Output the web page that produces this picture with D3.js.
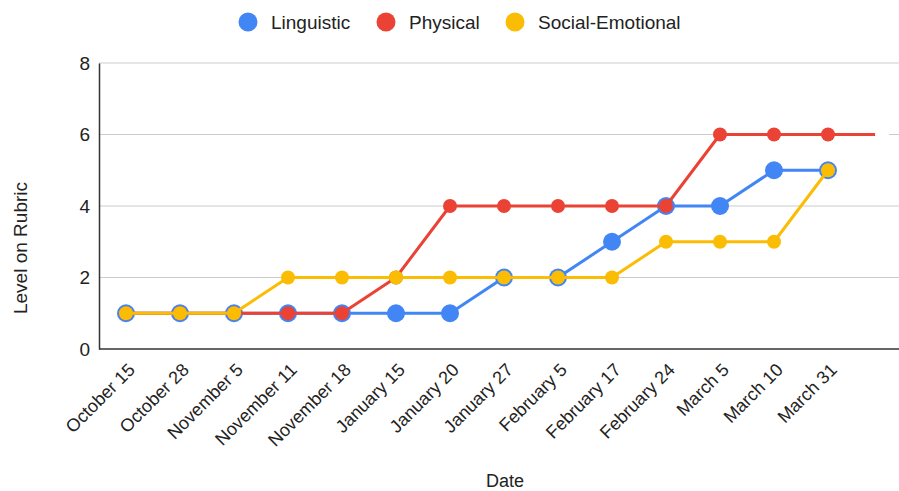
<!DOCTYPE html>
<html>
<head>
<meta charset="utf-8">
<script src="https://cdn.jsdelivr.net/npm/d3@7"></script>
<style>
  html, body { margin: 0; padding: 0; background: #fff; }
  svg { display: block; font-family: "Liberation Sans", Arial, Helvetica, sans-serif; }
</style>
</head>
<body>
<svg id="chart" width="899" height="491"></svg>
<script>
// Observation dates (the last slot is an unlabelled trailing date)
const dates = ["October 15", "October 28", "November 5", "November 11", "November 18",
  "January 15", "January 20", "January 27", "February 5", "February 17",
  "February 24", "March 5", "March 10", "March 31", ""];

// Rubric levels per domain
const linguistic = [1, 1, 1, 1, 1, 1, 1, 2, 2, 3, 4, 4, 5, 5, null];
const physical = [1, 1, 1, 1, 1, 2, 4, 4, 4, 4, 4, 6, 6, 6, 6];
const socialEmotional = [1, 1, 1, 2, 2, 2, 2, 2, 2, 2, 3, 3, 3, 5, null];

const yTicks = [0, 2, 4, 6, 8];

const seriesNames = ["Linguistic", "Physical", "Social-Emotional"];
const seriesValues = [linguistic, physical, socialEmotional];
const seriesColors = ["#4285F4", "#EA4335", "#FBBC04"];
const seriesRadius = [9, 7, 7];

const svg = d3.select("#chart");
const margin = { left: 99, top: 63, bottom: 349 };
const plotRight = 909;

const x = d3.scaleBand().domain(dates.map((d, i) => i)).range([margin.left, plotRight]);
const cx = i => x(i) + x.bandwidth() / 2;
const y = d3.scaleLinear().domain([0, 8]).range([margin.bottom, margin.top]);

// Horizontal gridlines
svg.append("g")
  .selectAll("line")
  .data(yTicks.filter(t => t > 0))
  .join("line")
  .attr("x1", margin.left).attr("x2", plotRight)
  .attr("y1", d => y(d)).attr("y2", d => y(d))
  .attr("stroke", "#cccccc").attr("stroke-width", 1);

// Y axis
const yAxis = svg.append("g")
  .attr("transform", `translate(${margin.left},0)`)
  .call(d3.axisLeft(y).tickValues(yTicks).tickSize(0).tickPadding(9));
yAxis.select(".domain").attr("stroke", "#333").attr("stroke-width", 1.5);
yAxis.selectAll("text").attr("font-size", 19).attr("fill", "#222")
  .attr("font-family", "Liberation Sans, Arial, sans-serif");

// X axis
const xAxis = svg.append("g")
  .attr("transform", `translate(0,${margin.bottom})`)
  .call(d3.axisBottom(x).tickSize(0).tickFormat(i => dates[i]));
xAxis.select(".domain").attr("stroke", "#333").attr("stroke-width", 1.5)
  .attr("d", `M${margin.left},0H${plotRight}`);
xAxis.selectAll("text")
  .attr("font-size", 18).attr("fill", "#222")
  .attr("font-family", "Liberation Sans, Arial, sans-serif")
  .attr("text-anchor", "end")
  .attr("dy", null).attr("y", null)
  .attr("transform", "translate(10,22) rotate(-45)");

// Axis titles
svg.append("text")
  .attr("x", 505).attr("y", 487)
  .attr("text-anchor", "middle")
  .attr("font-size", 18).attr("fill", "#222")
  .text("Date");
svg.append("text")
  .attr("transform", "translate(27,248) rotate(-90)")
  .attr("text-anchor", "middle")
  .attr("font-size", 19).attr("fill", "#222")
  .text("Level on Rubric");

// Series lines and markers
const line = d3.line()
  .defined(d => d.v != null)
  .x(d => cx(d.i))
  .y(d => y(d.v));

seriesValues.forEach((vals, s) => {
  const pts = vals.map((v, i) => ({ v, i }));
  const g = svg.append("g");
  g.append("path")
    .datum(pts)
    .attr("d", line)
    .attr("fill", "none")
    .attr("stroke", seriesColors[s])
    .attr("stroke-width", 3)
    .attr("stroke-linejoin", "round");
  g.selectAll("circle")
    .data(pts.filter(p => p.v != null))
    .join("circle")
    .attr("cx", p => cx(p.i))
    .attr("cy", p => y(p.v))
    .attr("r", seriesRadius[s])
    // the unlabelled trailing date carries no visible marker
    .attr("fill", p => dates[p.i] === "" ? "#fff" : seriesColors[s]);
});

// Legend
const legend = svg.append("g");
const legendItems = [
  { name: seriesNames[0], color: seriesColors[0], x: 248 },
  { name: seriesNames[1], color: seriesColors[1], x: 386 },
  { name: seriesNames[2], color: seriesColors[2], x: 515 }
];
legendItems.forEach(it => {
  legend.append("circle")
    .attr("cx", it.x).attr("cy", 22).attr("r", 9.5)
    .attr("fill", it.color);
  legend.append("text")
    .attr("x", it.x + 23).attr("y", 29)
    .attr("font-size", 19).attr("fill", "#222")
    .text(it.name);
});
</script>
</body>
</html>
